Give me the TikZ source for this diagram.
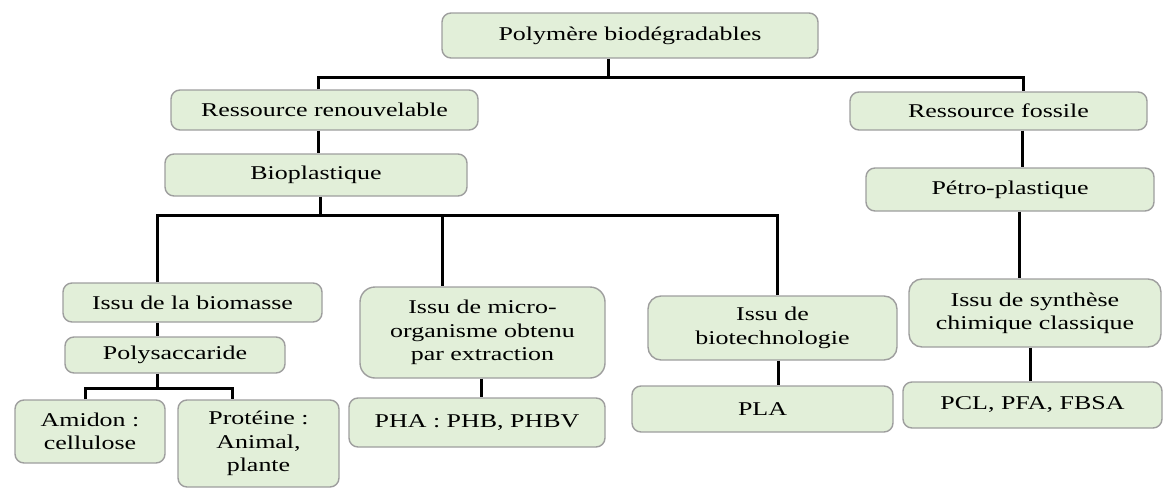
\documentclass[tikz,border=0pt]{standalone}
\usepackage{fontspec}
\setmainfont{Liberation Serif}[FakeStretch=1.33]
\definecolor{boxFill}{HTML}{E2EFD9}
\definecolor{boxLine}{HTML}{9E9E9E}
\usepackage{tikz}
\usetikzlibrary{positioning,calc}

\begin{document}
\begin{tikzpicture}[x=1pt, y=-1pt,
  font=\fontsize{19.5}{23.4}\selectfont,
  box/.style={draw=boxLine, fill=boxFill, line width=1.4pt, rounded corners=9pt, inner sep=0pt, align=center},
  link/.style={draw=black, line width=3pt}]
\useasboundingbox (0,0) rectangle (1163,488);
% root
\node[box, minimum width=376pt, minimum height=45pt] (root) at (630,35.5) {Polymère biodégradables};
% resources
\node[box, minimum width=307pt, minimum height=40pt] (renew) at (324.5,110) {Ressource renouvelable};
\node[box, minimum width=297pt, minimum height=38pt] (fossil) at (998.5,111) {Ressource fossile};
\node[box, minimum width=302pt, minimum height=42pt] (bioplast) at (316,175) {Bioplastique};
\node[box, minimum width=288pt, minimum height=43pt] (petro) at (1010,189.5) {Pétro-plastique};
% origins
\node[box, minimum width=259pt, minimum height=39pt] (biomass) at (192.5,302.5) {Issu de la biomasse};
\node[box, minimum width=220pt, minimum height=36pt] (polysac) at (175,355) {Polysaccaride};
\node[box, minimum width=150pt, minimum height=63pt] (amidon) at (90,431.5) {Amidon :\\cellulose};
\node[box, minimum width=161pt, minimum height=87pt] (protein) at (258.5,443.5) {Protéine :\\Animal,\\plante};
\node[box, minimum width=245pt, minimum height=91pt, rounded corners=15pt] (micro) at (482.5,332.5) {Issu de micro-\\organisme obtenu\\par extraction};
\node[box, minimum width=256pt, minimum height=49pt] (pha) at (477,422.5) {PHA : PHB, PHBV};
\node[box, minimum width=249pt, minimum height=64pt, rounded corners=13pt] (biotech) at (772.5,328) {Issu de\\biotechnologie};
\node[box, minimum width=261pt, minimum height=46pt] (pla) at (762.5,409) {PLA};
\node[box, minimum width=252pt, minimum height=68pt, rounded corners=13pt] (synth) at (1035,313) {Issu de synthèse\\chimique classique};
\node[box, minimum width=259pt, minimum height=46pt] (pcl) at (1032.5,405) {PCL, PFA, FBSA};
% junctions
\coordinate (rootJ) at (608,77);
\coordinate (rootL) at (318,77);
\coordinate (rootR) at (1023,77);
\coordinate (bioJ) at (320,215);
\coordinate (bioL) at (157,215);
\coordinate (bioM) at (442,215);
\coordinate (bioR) at (777,215);
\coordinate (polyJ) at (157,388);
\coordinate (polyL) at (85,388);
\coordinate (polyR) at (232,388);
% connectors
\draw[link] (root.south -| rootJ) -- (rootJ);
\draw[link] (renew.north -| rootL) -- (rootL) -- (rootR) -- (fossil.north -| rootR);
\draw[link] (renew.south -| rootL) -- (bioplast.north -| rootL);
\draw[link] (fossil.south -| 1022,0) -- (petro.north -| 1022,0);
\draw[link] (bioplast.south -| bioJ) -- (bioJ);
\draw[link] (biomass.north -| bioL) -- (bioL) -- (bioR) -- (biotech.north -| bioR);
\draw[link] (bioM) -- (micro.north -| bioM);
\draw[link] (petro.south -| 1019,0) -- (synth.north -| 1019,0);
\draw[link] (biomass.south -| polyJ) -- (polysac.north -| polyJ);
\draw[link] (polysac.south -| polyJ) -- (polyJ);
\draw[link] (amidon.north -| polyL) -- (polyL) -- (polyR) -- (protein.north -| polyR);
\draw[link] (micro.south -| 481,0) -- (pha.north -| 481,0);
\draw[link] (biotech.south -| 778,0) -- (pla.north -| 778,0);
\draw[link] (synth.south -| 1030,0) -- (pcl.north -| 1030,0);
\end{tikzpicture}
\end{document}
